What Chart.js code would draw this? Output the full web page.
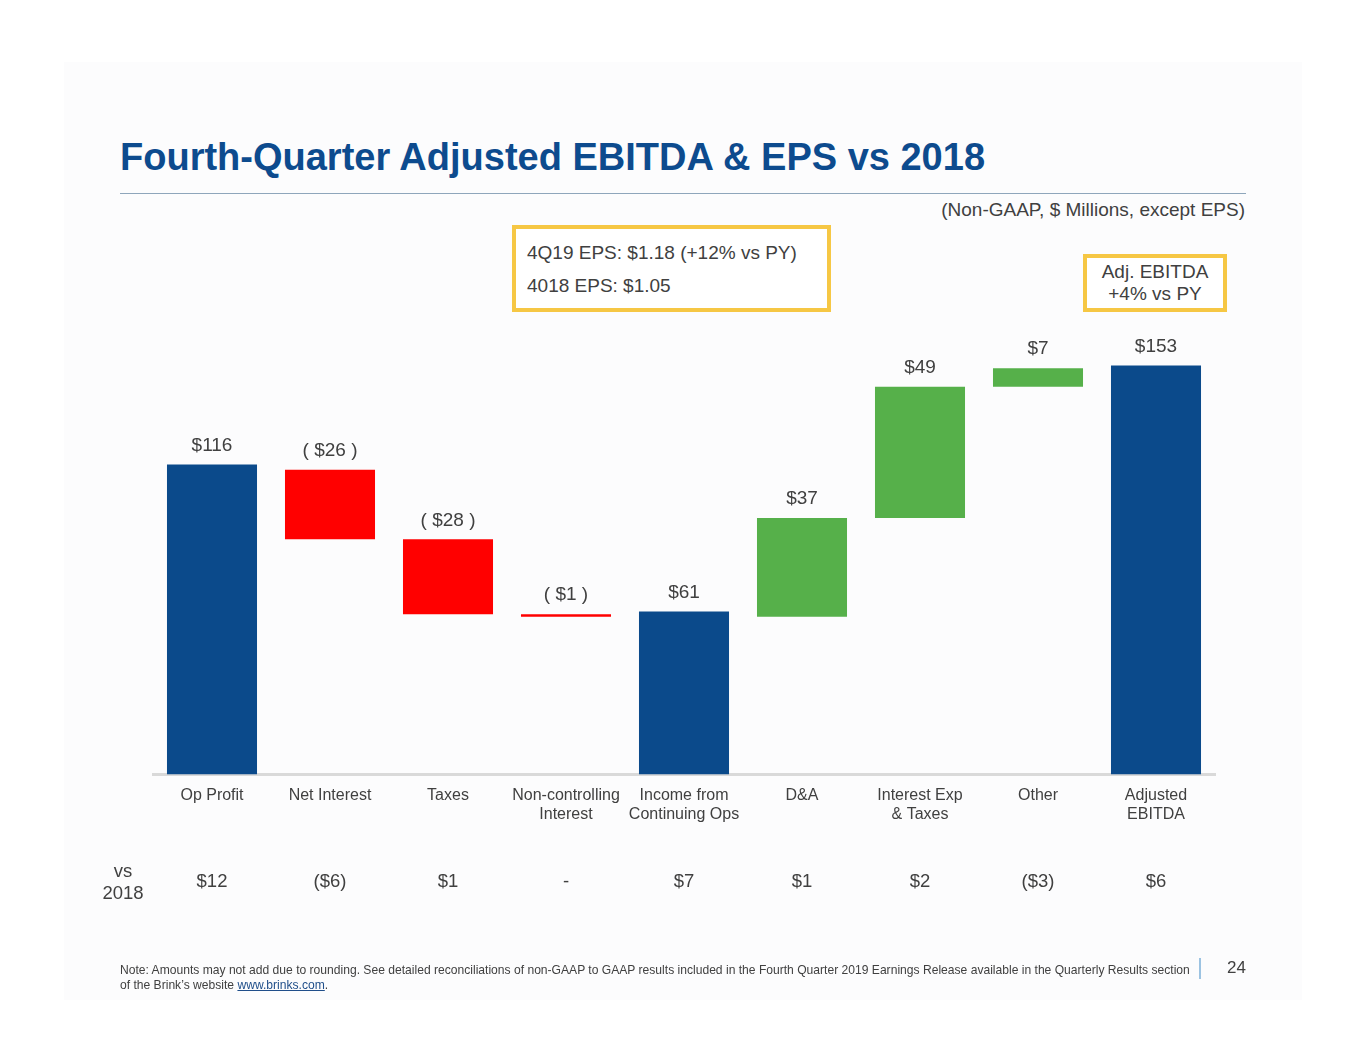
<!DOCTYPE html>
<html>
<head>
<meta charset="utf-8">
<script src="https://cdn.jsdelivr.net/npm/chart.js@4.4.1/dist/chart.umd.min.js"></script>
<style>
  body { margin: 0; background: #ffffff; font-family: "Liberation Sans", Arial, sans-serif; color: #404040; }
  #page { position: relative; width: 1365px; height: 1055px; overflow: hidden; }
  #panel { position: absolute; left: 64px; top: 62px; width: 1238px; height: 938px; background: #fcfcfd; }
  #chart { position: absolute; left: 0; top: 0; }
  .t { position: absolute; white-space: nowrap; }
  #title { left: 120px; top: 136px; font-size: 38px; font-weight: bold; color: #0d4b8e; }
  #rule { position: absolute; left: 120px; top: 193px; width: 1126px; height: 1px; background: #8ea6bb; }
  #sub { right: 120px; top: 199px; font-size: 19px; }
  .box { position: absolute; border: 4px solid #f6c744; background: #ffffff; box-sizing: border-box; }
  #eps { left: 512px; top: 225px; width: 319px; height: 87px; }
  #ebitda { left: 1083px; top: 254px; width: 144px; height: 58px; }
  #vs { left: 98px; top: 860px; width: 50px; text-align: center; font-size: 18.5px; line-height: 22px; }
  #note { left: 120px; top: 963px; font-size: 12.1px; line-height: 15px; }
  #note a { color: #1f4e8a; }
  #bar { position: absolute; left: 1199px; top: 958px; width: 2px; height: 21px; background: #9cc3e2; }
  #pg { left: 1227px; top: 958px; font-size: 17px; }
</style>
</head>
<body>
<div id="page">
  <div id="panel"></div>
  <div class="t" id="title">Fourth-Quarter Adjusted EBITDA &amp; EPS vs 2018</div>
  <div id="rule"></div>
  <div class="t" id="sub">(Non-GAAP, $ Millions, except EPS)</div>
  <div class="box" id="eps">
    <div class="t" style="left:11px;top:13px;font-size:19px;">4Q19 EPS: $1.18 (+12% vs PY)</div>
    <div class="t" style="left:11px;top:46px;font-size:19px;">4018 EPS: $1.05</div>
  </div>
  <div class="box" id="ebitda">
    <div style="text-align:center;font-size:19px;line-height:22px;margin-top:3px;">Adj. EBITDA<br>+4% vs PY</div>
  </div>
  <canvas id="chart" width="1365" height="1055"></canvas>
  <div class="t" id="vs">vs<br>2018</div>
  <div class="t" id="note">Note: Amounts may not add due to rounding. See detailed reconciliations of non-GAAP to GAAP results included in the Fourth Quarter 2019 Earnings Release available in the Quarterly Results section<br>of the Brink’s website <a href="#">www.brinks.com</a>.</div>
  <div id="bar"></div>
  <div class="t" id="pg">24</div>
</div>
<script>
// Categorias do waterfall
const categorias = [
    ['Op Profit'], ['Net Interest'], ['Taxes'], ['Non-controlling', 'Interest'],
    ['Income from', 'Continuing Ops'], ['D&A'], ['Interest Exp', '& Taxes'], ['Other'], ['Adjusted', 'EBITDA']
];

// Base e topo de cada barra ($ milhões)
const baseBarra = [0, 88, 60, 59, 0, 59, 96, 145, 0];
const topoBarra = [116, 114, 88, 60, 61, 96, 145, 152, 153];

// Rótulos acima das barras
const rotulos = ['$116', '( $26 )', '( $28 )', '( $1 )', '$61', '$37', '$49', '$7', '$153'];

// Variação vs 2018
const vs2018 = ['$12', '($6)', '$1', '-', '$7', '$1', '$2', '($3)', '$6'];

// Tipo de barra: total, negativo, positivo
const tipos = ['total', 'neg', 'neg', 'neg', 'total', 'pos', 'pos', 'pos', 'total'];
const cores = { total: '#0b4a8b', neg: '#ff0000', pos: '#56b04a' };

// Plugin para desenhar rótulos e a linha "vs 2018"
const rotulosPlugin = {
    id: 'rotulos',
    afterDatasetsDraw(chart) {
        const ctx = chart.ctx;
        const meta = chart.getDatasetMeta(0);
        const xScale = chart.scales.x;
        const yScale = chart.scales.y;
        ctx.save();
        ctx.fillStyle = '#404040';
        ctx.textAlign = 'center';
        ctx.textBaseline = 'middle';
        ctx.font = '19px "Liberation Sans", Arial, sans-serif';
        meta.data.forEach((bar, i) => {
            const y = yScale.getPixelForValue(topoBarra[i]) - 19;
            ctx.fillText(rotulos[i], bar.x, y);
        });
        ctx.font = '18.5px "Liberation Sans", Arial, sans-serif';
        vs2018.forEach((txt, i) => {
            ctx.fillText(txt, xScale.getPixelForValue(i), 882);
        });
        ctx.restore();
    }
};

const ctx = document.getElementById('chart').getContext('2d');
window.waterfallChart = new Chart(ctx, {
    type: 'bar',
    data: {
        labels: categorias,
        datasets: [{
            data: baseBarra.map((b, i) => [b, topoBarra[i]]),
            backgroundColor: tipos.map(t => cores[t]),
            borderWidth: 0,
            barPercentage: 0.763,
            categoryPercentage: 1
        }]
    },
    options: {
        responsive: false,
        animation: false,
        layout: { padding: { left: 153, right: 150, top: 320, bottom: 220 } },
        plugins: {
            legend: { display: false },
            tooltip: { enabled: false }
        },
        scales: {
            x: {
                grid: { display: false, drawTicks: false },
                border: { display: true, color: '#d9d9d9', width: 3 },
                ticks: {
                    color: '#404040',
                    padding: 11,
                    font: { family: '"Liberation Sans", Arial, sans-serif', size: 16, lineHeight: 1.2 }
                }
            },
            y: {
                display: false,
                min: 0,
                max: 170
            }
        }
    },
    plugins: [rotulosPlugin]
});
</script>
</body>
</html>
